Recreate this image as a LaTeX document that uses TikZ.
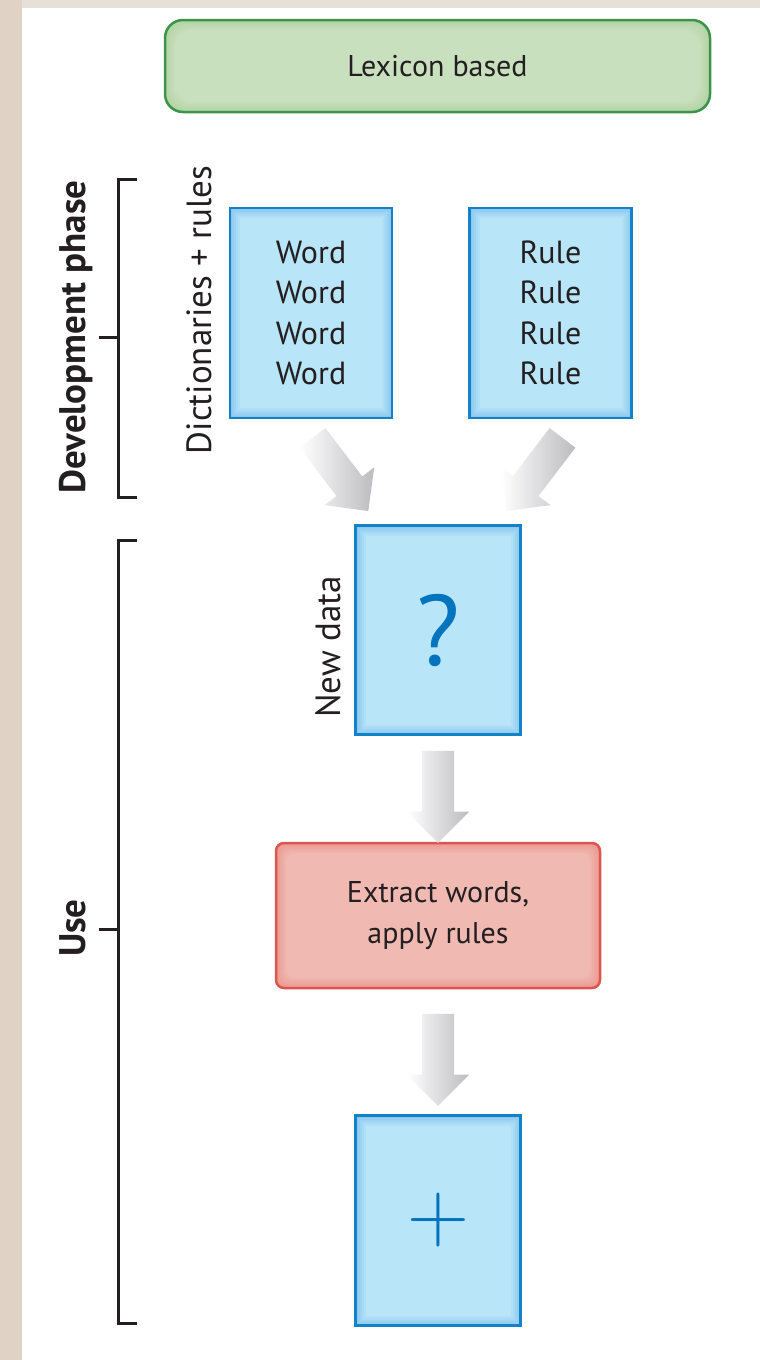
\documentclass[tikz,border=0pt]{standalone}
\usepackage{fontspec}
\setsansfont{PT Sans}
\renewcommand{\familydefault}{\sfdefault}
\usetikzlibrary{positioning,shapes.arrows,calc}

\definecolor{inkgray}{HTML}{231F20}
\definecolor{pagebg}{HTML}{E0D3C6}
\definecolor{topbg}{HTML}{E7E0D6}
\definecolor{lexfill}{HTML}{C9E0BE}
\definecolor{lexedge}{HTML}{B3D4A6}
\definecolor{lexline}{HTML}{3C9448}
\definecolor{boxfill}{HTML}{B9E5F9}
\definecolor{boxedge}{HTML}{8CC8EE}
\definecolor{boxline}{HTML}{1482C8}
\definecolor{redfill}{HTML}{F0B9B2}
\definecolor{rededge}{HTML}{EC9A90}
\definecolor{redline}{HTML}{DC5550}
\definecolor{qblue}{HTML}{0074BE}
\definecolor{arrowgray}{HTML}{BCBCC0}

\tikzset{
  glow/.style 2 args={path picture={
    \foreach \d/\p in {0/100,2/80,4/60,6/40,8/20,10/0}
      \fill[#1!\p!#2] ([shift={(\d pt,-\d pt)}]path picture bounding box.north west)
        rectangle ([shift={(-\d pt,\d pt)}]path picture bounding box.south east);
  }},
}

\begin{document}
\begin{tikzpicture}[x=1pt,y=-1pt,
  every node/.style={text=inkgray,font=\fontsize{30}{40.5}\selectfont},
  lexbox/.style={draw=lexline,line width=2.5pt,fill=lexfill,rounded corners=18pt,
    minimum width=545pt,minimum height=92pt,glow={lexedge}{lexfill}},
  box/.style={draw=boxline,line width=2.5pt,fill=boxfill,minimum width=162pt,
    minimum height=210pt,align=center,glow={boxedge}{boxfill}},
  stepbox/.style={draw=redline,line width=2.5pt,fill=redfill,rounded corners=8pt,
    minimum width=324pt,minimum height=145pt,align=center,glow={rededge}{redfill}},
  side/.style={rotate=90,inner sep=0pt,font=\fontsize{35}{40}\selectfont},
  phase/.style={rotate=90,inner sep=0pt,font=\fontsize{37}{40}\selectfont\bfseries},
  bracket/.style={line width=3pt,draw=inkgray},
  fatarrow/.style={single arrow,draw=none,inner sep=0pt,inner ysep=16pt,
    single arrow head extend=15pt,minimum height=92pt,left color=white,right color=arrowgray}]

  \useasboundingbox (0,0) rectangle (760,1360);
  \fill[pagebg] (0,0) rectangle (760,1360);
  \fill[topbg] (22,0) rectangle (760,8);
  \fill[white] (22,8) rectangle (760,1360);

  \node[lexbox] (lex) at (437.5,66) {Lexicon based};

  \node[box,font=\fontsize{32}{40.5}\selectfont] (words) at (311,313) {Word\\Word\\Word\\Word};
  \node[box,font=\fontsize{32}{40.5}\selectfont,right=75pt of words] (rules) {Rule\\Rule\\Rule\\Rule};
  \node[stepbox] (extract) at (438,915.5) {Extract words,\\apply rules};
  \node[box,above=106pt of extract,minimum width=165pt,minimum height=209pt] (new)
    {\textcolor{qblue}{\fontsize{100}{100}\selectfont ?}};
  \node[box,below=125pt of extract,minimum width=165pt] (result)
    {\textcolor{qblue}{\rmfamily\fontsize{86}{86}\selectfont +}};

  \node[side] (dict) at (199,310) {Dictionaries + rules};
  \node[side] (newlbl) at (328,647) {New data};
  \node[phase] (dev) at (76,337) {Development phase};
  \node[phase] (use) at (73,928) {Use};

  \draw[bracket] (137,179) -| (118,497) -- (137,497);
  \draw[bracket] (99,337) -- (118,337);
  \draw[bracket] (137,540) -| (118,1323) -- (137,1323);
  \draw[bracket] (99,929) -- (118,929);

  \node[fatarrow,rotate=-52.7] (la) at (335.5,468) {};
  \node[fatarrow,rotate=-127.3] (ra) at (539.5,468) {};
  \node[fatarrow,rotate=-90] (da) at ($(new.south)!0.5!(extract.north)$) {};
  \node[fatarrow,rotate=-90] (db) at ($(extract.south)!0.5!(result.north)$) {};

\end{tikzpicture}
\end{document}
